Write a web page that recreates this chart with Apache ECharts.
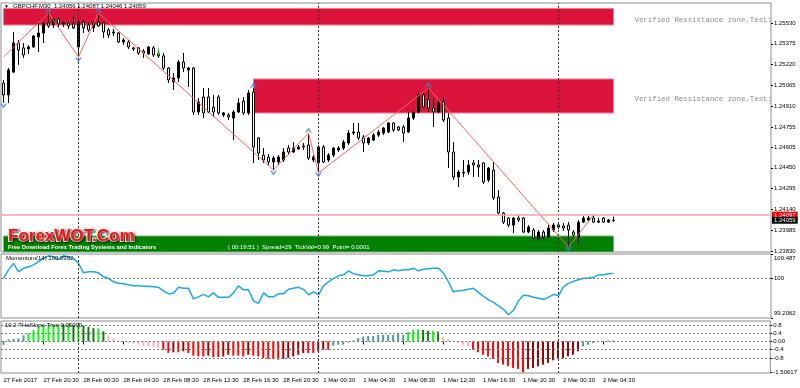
<!DOCTYPE html>
<html><head><meta charset="utf-8">
<script src="https://cdn.jsdelivr.net/npm/echarts@6/dist/echarts.min.js"></script>
<style>html,body{margin:0;padding:0;background:#fff}#c{width:800px;height:388px}</style>
</head><body><div id="c"></div>
<script>
// ---------- DATA ----------
const symbolName = 'GBPCHF,M30';
const timeLabels = ['27 Feb 2017','27 Feb 20:30','28 Feb 00:30','28 Feb 04:30','28 Feb 08:30','28 Feb 12:30','28 Feb 16:30','28 Feb 20:30','1 Mar 00:30','1 Mar 04:30','1 Mar 08:30','1 Mar 12:30','1 Mar 16:30','1 Mar 20:30','2 Mar 00:30','2 Mar 04:30'];
const barsPerLabel = 8;
const slotCount = 154;
const daySeparators = [15, 63, 111];

const opens = [1.25082,1.24993,1.25164,1.25381,1.25344,1.25336,1.25351,1.25426,1.25455,1.25530,
1.25515,1.25560,1.25523,1.25530,1.25523,1.25351,1.25537,1.25515,1.25493,1.25537,
1.25530,1.25478,1.25463,1.25455,1.25388,1.25388,1.25344,1.25344,1.25321,1.25299,
1.25344,1.25299,1.25284,1.25194,1.25090,1.25120,1.25239,1.25179,1.25194,1.24866,
1.24978,1.24978,1.24903,1.24978,1.24844,1.24844,1.24821,1.24866,1.24948,1.24859,
1.25015,1.24672,1.24545,1.24530,1.24493,1.24493,1.24508,1.24597,1.24568,1.24590,
1.24612,1.24620,1.24508,1.24486,1.24605,1.24508,1.24545,1.24583,1.24597,1.24635,
1.24709,1.24717,1.24680,1.24635,1.24657,1.24694,1.24709,1.24717,1.24784,1.24754,
1.24754,1.24717,1.24821,1.24866,1.24993,1.24956,1.24896,1.24866,1.24941,1.24821,
1.24568,1.24381,1.24418,1.24418,1.24486,1.24471,1.24486,1.24359,1.24433,1.24232,
1.24113,1.24075,1.24023,1.24075,1.24075,1.23971,1.23986,1.23919,1.23971,1.23934,
1.23986,1.24023,1.24016,1.24023,1.23971,1.23934,1.24045,1.24060,1.24075,1.24045,
1.24075,1.24045,1.24056];
const closes = [1.24993,1.25179,1.25381,1.25329,1.25291,1.25351,1.25433,1.25455,1.25530,1.25508,
1.25560,1.25523,1.25530,1.25508,1.25493,1.25537,1.25493,1.25478,1.25537,1.25508,
1.25463,1.25440,1.25455,1.25388,1.25403,1.25351,1.25336,1.25306,1.25306,1.25351,
1.25291,1.25284,1.25194,1.25105,1.25120,1.25239,1.25194,1.25194,1.24866,1.24941,
1.24859,1.24866,1.24866,1.24859,1.24859,1.24829,1.24866,1.24933,1.24859,1.25008,
1.24605,1.24560,1.24508,1.24493,1.24523,1.24530,1.24568,1.24568,1.24597,1.24605,
1.24605,1.24523,1.24530,1.24605,1.24493,1.24545,1.24597,1.24597,1.24642,1.24709,
1.24717,1.24672,1.24635,1.24672,1.24694,1.24717,1.24747,1.24784,1.24732,1.24732,
1.24709,1.24821,1.24866,1.24993,1.24903,1.24896,1.24866,1.24933,1.24806,1.24568,
1.24381,1.24418,1.24411,1.24471,1.24471,1.24456,1.24344,1.24448,1.24225,1.24113,
1.24045,1.24023,1.24075,1.24060,1.23971,1.24008,1.23926,1.23971,1.23934,1.24001,
1.24023,1.24008,1.24001,1.23986,1.23948,1.24045,1.24075,1.24075,1.24045,1.24053,
1.24045,1.24060,1.24059];
const lows = [1.24933,1.24933,1.25157,1.25217,1.25269,1.25299,1.25344,1.25314,1.25381,1.25493,
1.25493,1.25500,1.25500,1.25485,1.25485,1.25276,1.25455,1.25463,1.25463,1.25500,
1.25418,1.25418,1.25433,1.25381,1.25366,1.25336,1.25321,1.25291,1.25269,1.25291,
1.25276,1.25269,1.25179,1.25082,1.25030,1.25090,1.25164,1.25053,1.24844,1.24844,
1.24821,1.24859,1.24829,1.24844,1.24829,1.24806,1.24657,1.24859,1.24844,1.24844,
1.24486,1.24508,1.24486,1.24471,1.24433,1.24471,1.24493,1.24545,1.24560,1.24583,
1.24583,1.24508,1.24493,1.24418,1.24486,1.24493,1.24530,1.24568,1.24583,1.24620,
1.24694,1.24657,1.24568,1.24620,1.24650,1.24680,1.24694,1.24709,1.24717,1.24724,
1.24642,1.24709,1.24806,1.24859,1.24896,1.24866,1.24754,1.24859,1.24791,1.24448,
1.24359,1.24307,1.24381,1.24396,1.24381,1.24381,1.24329,1.24344,1.24210,1.24098,
1.24031,1.24008,1.23963,1.24045,1.23963,1.23963,1.23911,1.23911,1.23911,1.23926,
1.23971,1.23993,1.23978,1.23866,1.23934,1.23874,1.24038,1.24045,1.24038,1.24038,
1.24038,1.24038,1.24046];
const highs = [1.25105,1.25194,1.25463,1.25403,1.25381,1.25366,1.25440,1.25530,1.25537,1.25605,
1.25567,1.25567,1.25545,1.25545,1.25590,1.25552,1.25552,1.25537,1.25545,1.25605,
1.25537,1.25493,1.25485,1.25463,1.25418,1.25403,1.25351,1.25351,1.25336,1.25358,
1.25358,1.25329,1.25306,1.25202,1.25157,1.25254,1.25306,1.25202,1.25202,1.24970,
1.25045,1.25045,1.24993,1.24993,1.24866,1.24859,1.24881,1.24970,1.24978,1.25030,
1.25045,1.24680,1.24597,1.24553,1.24538,1.24545,1.24597,1.24620,1.24642,1.24620,
1.24635,1.24709,1.24545,1.24620,1.24620,1.24560,1.24605,1.24612,1.24657,1.24732,
1.24784,1.24784,1.24694,1.24680,1.24709,1.24732,1.24754,1.24791,1.24791,1.24762,
1.24769,1.24866,1.24881,1.25008,1.25015,1.25045,1.24978,1.24956,1.24978,1.24859,
1.24642,1.24433,1.24508,1.24508,1.24508,1.24508,1.24493,1.24456,1.24493,1.24284,
1.24120,1.24083,1.24083,1.24098,1.24083,1.24023,1.24001,1.23986,1.23986,1.24023,
1.24038,1.24045,1.24038,1.24045,1.23986,1.24060,1.24090,1.24090,1.24098,1.24075,
1.24083,1.24068,1.24087];

const askPrice = 1.24097;
const priceTicks = [1.25530,1.25375,1.25220,1.25065,1.24910,1.24755,1.24605,1.24450,1.24295,1.24140,1.23985,1.23830];
const priceMin = 1.23822, priceMax = 1.25679;

// supply / demand zones
const zoneStart = [0, 50, 0];
const zoneEnd = [122, 122, 122];
const zoneTop = [1.25638, 1.25112, 1.23941];
const zoneBottom = [1.25515, 1.24859, 1.23822];
const zoneKind = ['res', 'res', 'sup'];

// zigzag
const zzIdx = [0, 9, 15, 19, 54, 61, 63, 85, 113, 118];
const zzPrice = [1.25276, 1.25605, 1.25276, 1.25605, 1.24433, 1.24709, 1.24411, 1.25045, 1.23859, 1.24098];
// fractal arrows
const fractalHighIdx = [9, 19, 50, 61, 85];
const fractalLowIdx = [0, 15, 54, 63, 113];
const signalIdx = [31];
const signalPrice = [1.25314];

// Momentum(14)
const momentum = [100.00,100.17,100.30,100.13,100.20,100.23,100.27,100.33,100.40,100.45,
100.43,100.38,100.45,100.43,100.40,100.30,100.11,100.13,100.13,100.11,
100.03,100.00,99.93,99.90,99.89,99.87,99.85,99.85,99.84,99.84,
99.83,99.82,99.75,99.69,99.70,99.82,99.80,99.80,99.59,99.63,
99.68,99.63,99.71,99.62,99.62,99.62,99.71,99.85,99.77,99.77,
99.55,99.50,99.71,99.63,99.63,99.69,99.69,99.78,99.80,99.82,
99.78,99.67,99.73,99.67,99.85,99.93,100.00,100.05,100.07,100.15,
100.09,100.07,100.05,100.05,100.07,100.15,100.14,100.13,100.17,100.15,
100.17,100.17,100.20,100.15,100.18,100.19,100.20,100.20,100.10,99.93,
99.73,99.75,99.76,99.78,99.80,99.72,99.64,99.57,99.52,99.45,
99.38,99.27,99.36,99.55,99.66,99.65,99.62,99.60,99.58,99.62,
99.68,99.65,99.83,99.90,99.94,99.97,100.00,100.00,100.02,100.07,
100.07,100.09,100.0992];
const momTicks = [100.487, 100, 99.2062];
const momLevel = 100;

// slope histogram
const slope = [-0.15,0.10,0.12,0.15,0.30,0.40,0.55,0.70,0.75,0.78,
0.82,0.83,0.82864,0.83,0.80,0.80,0.78,0.72,0.65,0.65,
0.50,0.30,0.15,0.05,0.02,-0.08,-0.10,-0.15,-0.20,-0.24,
-0.27,-0.32,-0.40,-0.56,-0.53,-0.53,-0.48,-0.56,-0.69,-0.73,
-0.73,-0.69,-0.76,-0.76,-0.73,-0.65,-0.69,-0.69,-0.73,-0.65,
-0.69,-0.73,-0.81,-0.85,-0.85,-0.89,-0.85,-0.81,-0.73,-0.65,
-0.56,-0.56,-0.56,-0.48,-0.40,-0.40,-0.21,-0.16,-0.16,-0.05,
0.05,0.16,0.24,0.27,0.27,0.32,0.32,0.32,0.32,0.37,
0.32,0.45,0.56,0.60,0.56,0.53,0.53,0.48,0.21,0.11,
0.05,-0.08,-0.16,-0.24,-0.40,-0.53,-0.65,-0.73,-0.85,-1.05,
-1.13,-1.21,-1.29,-1.34,-1.50617,-1.34,-1.29,-1.21,-1.13,-1.05,
-0.92,-0.85,-0.81,-0.73,-0.65,-0.48,-0.24,-0.16,-0.08,0.02,
0.02,0.05,0.05];
const slopeTicks = [0.82864, 0.8, 0.4, 0, -0.4, -0.8, -1.50617];
const slopeTickText = ['0.82864', '0.8', '0.4', '0.00', '-0.4', '-0.8', '-1.50617'];
const slopeLevels = [0.8, 0.4, 0, -0.4, -0.8];

// ---------- CHART ----------
const FONT = '"Liberation Sans", Arial, sans-serif';
const chart = echarts.init(document.getElementById('c'));
const cats = Array.from({length: slotCount}, (_, i) => i);
const last = opens.length - 1;

const sepLines = daySeparators.map(i => ({xAxis: i}));
const sepStyle = {color: '#333', width: 1, type: [2, 2]};

function slopeColors() {
  let lastBig = -1;
  return slope.map((v, i) => {
    const prev = i > 0 ? slope[i - 1] : v;
    if (v >= 0.39) { lastBig = 1; return v >= prev ? '#00ff00' : '#0c7a0c'; }
    if (v <= -0.39) { lastBig = -1; return v <= prev ? '#ff0000' : '#a50000'; }
    return lastBig > 0 ? '#ffb0c0' : '#4f9a94';
  });
}
const sColors = slopeColors();

const upCaret = 'path://M0,10 L5,0 L10,10 L7.5,10 L5,5 L2.5,10 Z';
const dnCaret = 'path://M0,0 L5,10 L10,0 L7.5,0 L5,5 L2.5,0 Z';
const dnArrow = 'path://M3,0 L5,0 L5,6 L8,6 L4,11 L0,6 L3,6 Z';

const gridCommon = {left: 1, right: 29, show: true, borderColor: '#8c8c8c', borderWidth: 1, backgroundColor: 'transparent'};
const axisLabelCommon = {fontSize: 6, fontFamily: FONT, color: '#000', margin: 3};
const priceLabel = (bg) => ({show: true, position: 'end', distance: 1, backgroundColor: bg, color: '#fff',
  fontSize: 6, fontFamily: FONT, padding: [1, 2, 0, 2]});

const option = {
  animation: false,
  backgroundColor: '#fff',
  grid: [
    Object.assign({top: 3, height: 249}, gridCommon),
    Object.assign({top: 254, height: 64}, gridCommon),
    Object.assign({top: 321, height: 52}, gridCommon)
  ],
  xAxis: [0, 1, 2].map(g => ({
    type: 'category', gridIndex: g, data: cats, boundaryGap: true,
    axisLine: {show: false},
    axisTick: g === 2 ? {show: true, alignWithLabel: true, length: 3, interval: (i) => i % barsPerLabel === 0 && i / barsPerLabel < timeLabels.length, lineStyle: {color: '#000'}} : {show: false},
    axisLabel: g === 2 ? Object.assign({}, axisLabelCommon, {
      show: true, align: 'left', margin: 4,
      interval: (i) => i % barsPerLabel === 0 && i / barsPerLabel < timeLabels.length,
      formatter: (v, i) => timeLabels[i / barsPerLabel] || ''
    }) : {show: false},
    splitLine: {show: false}
  })),
  yAxis: [
    {type: 'value', gridIndex: 0, position: 'right', min: priceMin, max: priceMax, scale: true,
      axisLine: {show: false}, splitLine: {show: false},
      axisTick: {show: true, length: 2, customValues: priceTicks, lineStyle: {color: '#000'}},
      axisLabel: Object.assign({}, axisLabelCommon, {customValues: priceTicks, formatter: v => v.toFixed(5)})},
    {type: 'value', gridIndex: 1, position: 'right', min: 99.2062, max: 100.487,
      axisLine: {show: false}, splitLine: {show: false},
      axisTick: {show: true, length: 2, customValues: momTicks, lineStyle: {color: '#000'}},
      axisLabel: Object.assign({}, axisLabelCommon, {customValues: momTicks,
        formatter: v => v === momTicks[0] ? '{top|' + v + '}' : (v === momTicks[momTicks.length - 1] ? '{bot|' + v + '}' : String(v)),
        rich: {top: {fontSize: 6, fontFamily: FONT, padding: [9, 0, 0, 0]}, bot: {fontSize: 6, fontFamily: FONT, padding: [0, 0, 9, 0]}}})},
    {type: 'value', gridIndex: 2, position: 'right', min: -1.54, max: 1.0,
      axisLine: {show: false}, splitLine: {show: false},
      axisTick: {show: true, length: 2, customValues: slopeTicks, lineStyle: {color: '#000'}},
      axisLabel: Object.assign({}, axisLabelCommon, {customValues: slopeTicks,
        formatter: v => { const k = slopeTicks.findIndex(t => Math.abs(t - v) < 1e-7); return k >= 0 ? slopeTickText[k] : ''; }})}
  ],
  series: [
    { // zones
      type: 'custom', xAxisIndex: 0, yAxisIndex: 0, z: 1, clip: true, silent: true,
      data: zoneStart.map((s, i) => [s, zoneEnd[i], zoneTop[i], zoneBottom[i]]),
      encode: {x: [0, 1], y: [2, 3]},
      renderItem: (params, api) => {
        const i = params.dataIndex;
        const p1 = api.coord([zoneStart[i], zoneTop[i]]);
        const p2 = api.coord([zoneEnd[i], zoneBottom[i]]);
        const res = zoneKind[i] === 'res';
        const children = [{type: 'rect', shape: {x: p1[0], y: p1[1], width: p2[0] - p1[0], height: p2[1] - p1[1]},
          style: {fill: res ? '#dc143c' : '#008000', stroke: res ? '#f07890' : '#70b870', lineWidth: 1}}];
        if (res) children.push({type: 'text', x: p2[0] + 21, y: (p1[1] + p2[1]) / 2,
          style: {text: 'Verified Ressistance zone,Test:', font: '7.4px "Liberation Mono", monospace', fill: '#8c8c8c', verticalAlign: 'top'}});
        return {type: 'group', children};
      }
    },
    { // candles
      type: 'candlestick', xAxisIndex: 0, yAxisIndex: 0, z: 3, barWidth: 3,
      data: opens.map((o, i) => [o, closes[i], lows[i], highs[i]]),
      itemStyle: {color: '#000', color0: '#fff', borderColor: '#000', borderColor0: '#000', borderWidth: 1},
      markLine: {symbol: ['none', 'none'], silent: true, label: {show: false},
        data: sepLines.map(d => Object.assign({lineStyle: sepStyle}, d))}
    },
    { // zigzag + price lines
      type: 'line', xAxisIndex: 0, yAxisIndex: 0, z: 4, showSymbol: false, silent: true,
      data: zzIdx.map((x, i) => [x, zzPrice[i]]),
      lineStyle: {color: '#ff5f5f', width: 1},
      markLine: {symbol: ['none', 'none'], silent: true, precision: 5,
        data: [
          {yAxis: askPrice, lineStyle: {color: '#f5a3a3', width: 1.5, type: 'solid'},
            label: Object.assign(priceLabel('#ff0000'), {formatter: askPrice.toFixed(5)})},
          {yAxis: closes[last], lineStyle: {color: 'rgba(255,255,255,0)', width: 1, type: 'solid'},
            label: Object.assign(priceLabel('#000000'), {formatter: closes[last].toFixed(5)})}
        ]}
    },
    { type: 'scatter', xAxisIndex: 0, yAxisIndex: 0, z: 5, silent: true,
      data: fractalHighIdx.map(i => [i, highs[i]]), symbol: upCaret, symbolSize: [7, 5], symbolOffset: [0, -3],
      itemStyle: {color: '#3a86e8'} },
    { type: 'scatter', xAxisIndex: 0, yAxisIndex: 0, z: 5, silent: true,
      data: fractalLowIdx.map(i => [i, lows[i]]), symbol: dnCaret, symbolSize: [7, 5], symbolOffset: [0, 3],
      itemStyle: {color: '#3a86e8'} },
    { type: 'scatter', xAxisIndex: 0, yAxisIndex: 0, z: 5, silent: true,
      data: signalIdx.map((x, i) => [x, signalPrice[i]]), symbol: dnArrow, symbolSize: [4, 9],
      itemStyle: {color: '#22cc22'} },
    { // momentum
      type: 'line', xAxisIndex: 1, yAxisIndex: 1, showSymbol: false, silent: true,
      data: momentum, lineStyle: {color: '#1aa8f0', width: 1.5},
      markLine: {symbol: ['none', 'none'], silent: true, label: {show: false}, precision: 5,
        data: [{yAxis: momLevel, lineStyle: {color: '#7a7a7a', width: 1, type: [2, 2]}}]
          .concat(sepLines.map(d => Object.assign({lineStyle: sepStyle}, d)))}
    },
    { // slope histogram
      type: 'bar', xAxisIndex: 2, yAxisIndex: 2, barWidth: 2, silent: true,
      data: slope.map((v, i) => ({value: v, itemStyle: {color: sColors[i]}})),
      markLine: {symbol: ['none', 'none'], silent: true, label: {show: false}, precision: 5,
        data: slopeLevels.map(v => ({yAxis: v, lineStyle: {color: '#7a7a7a', width: 1, type: [2, 2]}}))
          .concat(sepLines.map(d => Object.assign({lineStyle: sepStyle}, d)))}
    }
  ],
  graphic: [
    {type: 'text', left: 4, top: 4, z: 100, style: {text: '\u25BC', font: '5px ' + FONT, fill: '#000'}},
    {type: 'text', left: 13, top: 3, z: 100, style: {
      text: symbolName + '  ' + [opens[last], highs[last], lows[last], closes[last]].map(v => v.toFixed(5)).join(' '),
      font: '6px ' + FONT, fill: '#000'}},
    {type: 'text', left: 6, top: 255, z: 100, style: {text: 'Momentum(14) ' + momentum[last].toFixed(4), font: '6px ' + FONT, fill: '#000'}},
    {type: 'text', left: 5, top: 322, z: 100, style: {text: '10.2 THaSlope True ' + slope[last].toFixed(5), font: '6px ' + FONT, fill: '#000'}},
    {type: 'text', left: 7, top: 227, z: 100, style: {text: 'ForexWOT.Com', font: 'bold 17px ' + FONT, fill: '#ff1010',
      stroke: '#ffffff', lineWidth: 2, textShadowColor: 'rgba(0,0,0,0.6)', textShadowBlur: 2, textShadowOffsetX: 1, textShadowOffsetY: 1}},
    {type: 'text', left: 8, top: 244, z: 100, style: {text: 'Free Download Forex Trading Systems and Indicators', font: 'bold 5.8px ' + FONT, fill: '#fff'}},
    {type: 'text', left: 228, top: 244, z: 100, style: {text: '( 00:19:51 )  Spread=29  TickVal=0.99  Point= 0.0001', font: '6px ' + FONT, fill: '#fff'}}
  ]
};
chart.setOption(option);
</script>
</body></html>
